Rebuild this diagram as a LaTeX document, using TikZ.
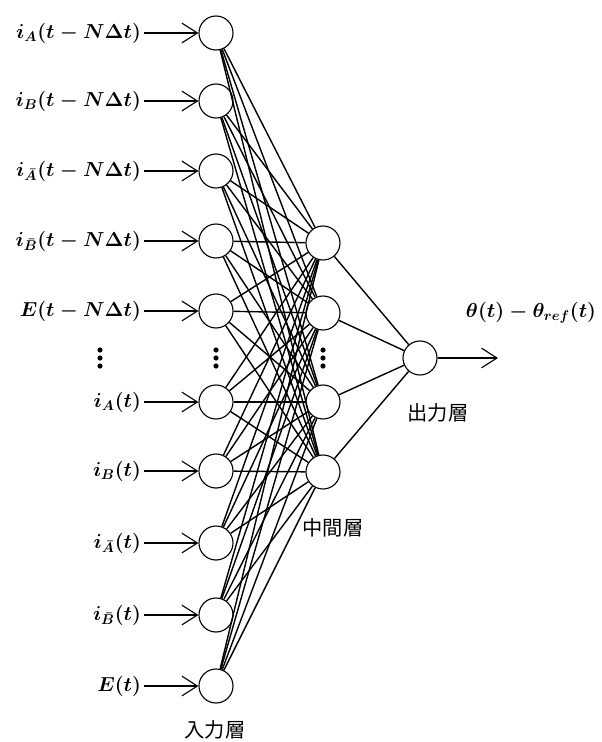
\documentclass[tikz,border=0pt]{standalone}
\usepackage{amsmath}
\usepackage{fontspec}
\newfontfamily\jpfont{Noto Sans CJK JP}
\usetikzlibrary{arrows.meta,positioning}

\begin{document}
\begin{tikzpicture}[x=0.025cm, y=-0.025cm,
  neuron/.style={draw, line width=0.8pt, circle, minimum size=0.85cm, inner sep=0pt},
  sig/.style={font=\Large\boldmath, anchor=east, inner sep=2pt},
  feed/.style={line width=0.8pt, -{Straight Barb[length=11pt,width=14pt]}},
  link/.style={line width=1pt},
  layername/.style={font=\jpfont\Large}
]
\useasboundingbox (0,0) rectangle (602,742);

% Input layer with its signals
\foreach \i/\y/\s in {1/33/{i_A(t - N\Delta t)}, 2/101/{i_B(t - N\Delta t)},
    3/171/{i_{\bar A}(t - N\Delta t)}, 4/241/{i_{\bar B}(t - N\Delta t)},
    5/311/{E(t - N\Delta t)}, 6/402/{i_A(t)}, 7/471/{i_B(t)},
    8/543/{i_{\bar A}(t)}, 9/615/{i_{\bar B}(t)}, 10/686/{E(t)}} {
  \node[neuron] (in\i) at (216,\y) {};
  \node[sig] (lbl\i) at (144,\y) {$\s$};
  \draw[feed] (lbl\i) -- (in\i);
}

% Hidden layer
\foreach \j/\y in {1/243, 2/313, 3/402, 4/472} {
  \node[neuron] (hid\j) at (323,\y) {};
}

% Full connections input -> hidden
\foreach \i in {1,...,10} {
  \foreach \j in {1,...,4} {
    \draw[link] (in\i) -- (hid\j);
  }
}

% Output layer
\node[neuron] (out) at (420,358) {};
\foreach \j in {1,...,4} {
  \draw[link] (hid\j) -- (out);
}
\coordinate (outend) at (498,358);
\draw[feed] (out) -- (outend);
\node[font=\Large\boldmath] (outlbl) at (531,313) {$\theta(t)-\theta_{ref}(t)$};

% Omission dots
\foreach \x in {100,216,323} {
  \foreach \y in {350,358,366} {
    \fill (\x,\y) circle (2.6);
  }
}

% Layer names
\node[layername] (inname) at (215,730) {入力層};
\node[layername] (hidname) at (333,528) {中間層};
\node[layername] (outname) at (438,413) {出力層};

\end{tikzpicture}
\end{document}
